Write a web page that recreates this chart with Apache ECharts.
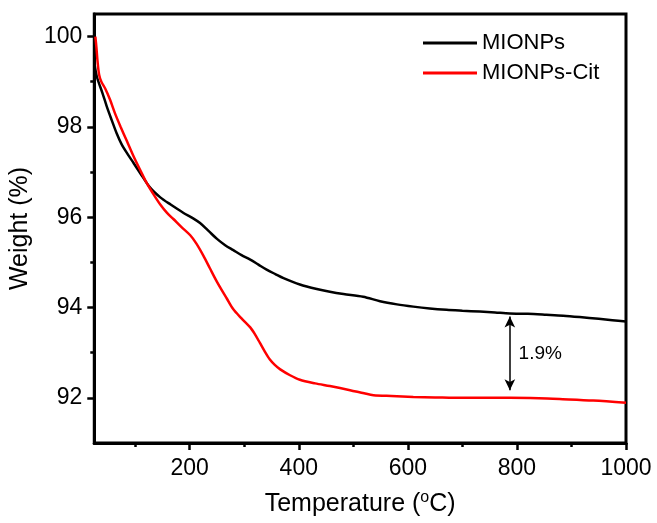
<!DOCTYPE html>
<html>
<head>
<meta charset="utf-8">
<script src="https://cdn.jsdelivr.net/npm/echarts@6/dist/echarts.min.js"></script>
<style>
  html, body { margin: 0; padding: 0; background: #fff; }
  #tga-chart { width: 657px; height: 523px; }
</style>
</head>
<body>
<div id="tga-chart"></div>
<script>
// TGA curves, [temperature °C, weight %]
const mionps = [
  [26, 99.35], [30, 99.1], [40, 98.75], [48, 98.45], [57, 98.15], [66, 97.86],
  [75, 97.62], [85, 97.42], [97, 97.2], [109, 96.98], [127, 96.66], [146, 96.44],
  [165, 96.28], [188, 96.1], [207, 95.97], [219, 95.87], [235, 95.69], [250, 95.52],
  [265, 95.38], [280, 95.27], [295, 95.16], [311, 95.06], [326, 94.95], [341, 94.84],
  [357, 94.74], [372, 94.65], [402, 94.51], [433, 94.41], [457, 94.35], [482, 94.3],
  [518, 94.24], [549, 94.14], [580, 94.07], [610, 94.02], [640, 93.98], [671, 93.95],
  [700, 93.93], [732, 93.91], [760, 93.89], [787, 93.87], [820, 93.86], [854, 93.84],
  [885, 93.82], [915, 93.79], [950, 93.75], [975, 93.72], [1000, 93.69]
];
const mionpsCit = [
  [27, 100], [29, 99.75], [31, 99.45], [34, 99.15], [38, 99.0], [45, 98.85],
  [54, 98.6], [63, 98.3], [73, 98.01], [85, 97.68], [97, 97.35], [109, 97.05],
  [121, 96.76], [134, 96.5], [146, 96.28], [158, 96.1], [170, 95.96], [185, 95.78],
  [201, 95.6], [212, 95.42], [225, 95.15], [237, 94.87], [250, 94.57], [268, 94.2],
  [280, 93.96], [295, 93.76], [311, 93.56], [320, 93.4], [329, 93.21], [338, 93.02],
  [347, 92.85], [356, 92.73], [366, 92.63], [384, 92.5], [402, 92.4], [430, 92.32],
  [457, 92.26], [494, 92.17], [520, 92.1], [537, 92.06], [570, 92.04], [610, 92.02],
  [650, 92.01], [701, 92.0], [750, 92.0], [787, 92.0], [840, 91.99], [884, 91.97],
  [940, 91.94], [1000, 91.89]
];

// ticks
const xTicks = [200, 400, 600, 800, 1000];
const xMinor = [100, 300, 500, 700, 900];
const yTicks = [92, 94, 96, 98, 100];
const yMinor = [93, 95, 97, 99];

// 1.9% gap arrow
const gapTemp = 787;
const gapTop = 93.8;
const gapBottom = 92.17;
const gapText = '1.9%';

const font = 'Liberation Sans, Arial, sans-serif';

const chart = echarts.init(document.getElementById('tga-chart'));

const option = {
  animation: false,
  backgroundColor: '#fff',
  grid: {
    left: 94, right: 31, top: 14, bottom: 79,
    show: true,
    borderColor: '#000',
    borderWidth: 3
  },
  legend: {
    orient: 'vertical',
    left: 418,
    top: 27,
    icon: 'rect',
    itemWidth: 54,
    itemHeight: 3,
    itemGap: 8,
    textStyle: { fontFamily: font, fontSize: 22, color: '#000' },
    data: ['MIONPs', 'MIONPs-Cit']
  },
  xAxis: [{
    type: 'value',
    min: 25,
    max: 1000,
    name: '{n|Temperature (}{sup|o}{n|C)}',
    nameLocation: 'middle',
    nameGap: 47,
    nameTextStyle: {
      fontFamily: font,
      fontSize: 25,
      color: '#000',
      rich: {
        sup: { fontFamily: font, fontSize: 16, lineHeight: 16, color: '#000', padding: [0, 0, 12, 0] },
        n: { fontFamily: font, fontSize: 25, lineHeight: 28, color: '#000' }
      }
    },
    axisLine: { show: true, lineStyle: { color: '#000', width: 3 } },
    axisTick: { show: true, length: 7, lineStyle: { width: 2.5, color: '#000' }, customValues: xTicks },
    axisLabel: {
      fontFamily: font, fontSize: 23, color: '#000', margin: 14, customValues: xTicks,
      formatter: v => String(v)
    },
    splitLine: { show: false }
  }, {
    type: 'value',
    min: 25,
    max: 1000,
    position: 'bottom',
    axisLine: { show: false },
    axisTick: { show: true, length: 4, lineStyle: { width: 2.5, color: '#000' }, customValues: xMinor },
    axisLabel: { show: false },
    splitLine: { show: false }
  }],
  yAxis: [{
    type: 'value',
    min: 91,
    max: 100.5,
    name: 'Weight (%)',
    nameLocation: 'middle',
    nameGap: 52,
    nameTextStyle: { fontFamily: font, fontSize: 25, color: '#000' },
    axisLine: { show: true, lineStyle: { color: '#000', width: 3 } },
    axisTick: { show: true, length: 7, lineStyle: { width: 2.5, color: '#000' }, customValues: yTicks },
    axisLabel: {
      fontFamily: font, fontSize: 23, color: '#000', margin: 12, customValues: yTicks,
      formatter: v => String(v)
    },
    splitLine: { show: false }
  }, {
    type: 'value',
    min: 91,
    max: 100.5,
    position: 'left',
    axisLine: { show: false },
    axisTick: { show: true, length: 4, lineStyle: { width: 2.5, color: '#000' }, customValues: yMinor },
    axisLabel: { show: false },
    splitLine: { show: false }
  }],
  series: [{
    name: 'MIONPs',
    type: 'line',
    data: mionps,
    smooth: 0.3,
    showSymbol: false,
    color: '#000',
    lineStyle: { color: '#000', width: 2.5 },
    markLine: {
      silent: true,
      symbol: ['arrow', 'arrow'],
      symbolSize: [8, 11],
      label: { show: false },
      lineStyle: { color: '#000', width: 1.5, type: 'solid' },
      data: [[{ coord: [gapTemp, gapTop] }, { coord: [gapTemp, gapBottom] }]]
    },
    markPoint: {
      silent: true,
      symbol: 'circle',
      symbolSize: 0,
      label: {
        show: true,
        position: 'right',
        distance: 0,
        formatter: gapText,
        fontFamily: font,
        fontSize: 19,
        color: '#000'
      },
      data: [{ coord: [gapTemp + 16, (gapTop + gapBottom) / 2] }]
    }
  }, {
    name: 'MIONPs-Cit',
    type: 'line',
    data: mionpsCit,
    smooth: 0.3,
    showSymbol: false,
    color: '#ff0000',
    lineStyle: { color: '#ff0000', width: 2.5 }
  }]
};

chart.setOption(option);
</script>
</body>
</html>
